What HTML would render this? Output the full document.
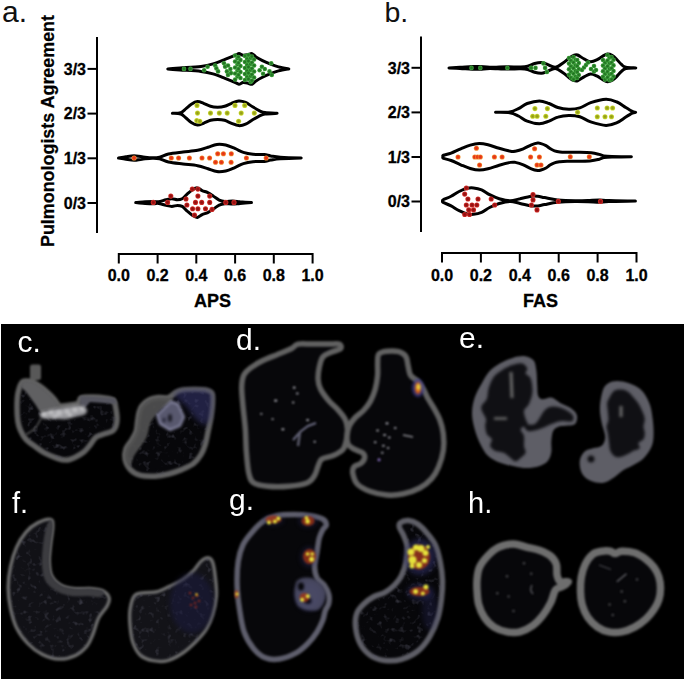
<!DOCTYPE html>
<html><head><meta charset="utf-8"><style>
html,body{margin:0;padding:0;background:#fff;}
body{width:685px;height:681px;overflow:hidden;position:relative;}
svg{position:absolute;left:0;top:0;display:block;}
text{font-family:"Liberation Sans",sans-serif;}
</style></head><body>
<svg width="685" height="681" viewBox="0 0 685 681">
<defs>
<filter color-interpolation-filters="sRGB" id="bl1" filterUnits="userSpaceOnUse" x="0" y="0" width="685" height="681"><feGaussianBlur stdDeviation="0.9"/></filter>
<filter color-interpolation-filters="sRGB" id="bl2" filterUnits="userSpaceOnUse" x="0" y="0" width="685" height="681"><feGaussianBlur stdDeviation="1.6"/></filter>
<filter color-interpolation-filters="sRGB" id="bl3" filterUnits="userSpaceOnUse" x="0" y="0" width="685" height="681"><feGaussianBlur stdDeviation="2.5"/></filter>
<filter id="noise" x="0" y="0" width="100%" height="100%" color-interpolation-filters="sRGB"><feTurbulence type="fractalNoise" baseFrequency="0.18" numOctaves="2" seed="7"/><feColorMatrix type="matrix" values="0 0 0 0 0.34  0 0 0 0 0.34  0 0 0 0 0.40  1.5 0 0 0 -0.84"/><feGaussianBlur stdDeviation="0.45"/></filter>
<radialGradient id="dR"><stop offset="0" stop-color="#861010"/><stop offset="0.5" stop-color="#a01414"/><stop offset="1" stop-color="#d8302a"/></radialGradient>
<radialGradient id="dO"><stop offset="0" stop-color="#e42c14"/><stop offset="0.55" stop-color="#e8401a"/><stop offset="1" stop-color="#f49430"/></radialGradient>
<radialGradient id="dY"><stop offset="0" stop-color="#8c9418"/><stop offset="0.55" stop-color="#a4b01c"/><stop offset="1" stop-color="#d0e030"/></radialGradient>
<radialGradient id="dG"><stop offset="0" stop-color="#1e6a1e"/><stop offset="0.55" stop-color="#2a822a"/><stop offset="1" stop-color="#44aa40"/></radialGradient>
</defs>
<rect width="685" height="681" fill="#fff"/>

<g stroke="#000" stroke-width="2" fill="none" stroke-linecap="square"><path d="M97,38V232"/><path d="M88.5,68.9H97"/><path d="M88.5,113.6H97"/><path d="M88.5,158.3H97"/><path d="M88.5,203H97"/><path d="M118.8,262.5V254H312.6V262.5"/><path d="M157.6,254V262.5"/><path d="M196.3,254V262.5"/><path d="M235.1,254V262.5"/><path d="M273.8,254V262.5"/></g><g font-weight="bold" font-size="16" fill="#000" stroke="#000" stroke-width="0.3"><text x="86" y="74.7" text-anchor="end">3/3</text><text x="86" y="119.4" text-anchor="end">2/3</text><text x="86" y="164.1" text-anchor="end">1/3</text><text x="86" y="208.8" text-anchor="end">0/3</text><text x="118.8" y="281" text-anchor="middle">0.0</text><text x="157.6" y="281" text-anchor="middle">0.2</text><text x="196.3" y="281" text-anchor="middle">0.4</text><text x="235.1" y="281" text-anchor="middle">0.6</text><text x="273.8" y="281" text-anchor="middle">0.8</text><text x="312.6" y="281" text-anchor="middle">1.0</text></g><text x="212.5" y="307" font-weight="bold" font-size="18" text-anchor="middle" fill="#000" stroke="#000" stroke-width="0.3">APS</text>
<g stroke="#000" stroke-width="2" fill="none" stroke-linecap="square"><path d="M421,37.5V231"/><path d="M412.5,67.8H421"/><path d="M412.5,112.4H421"/><path d="M412.5,157H421"/><path d="M412.5,201.5H421"/><path d="M442,261.5V253H636.5V261.5"/><path d="M480.9,253V261.5"/><path d="M519.8,253V261.5"/><path d="M558.7,253V261.5"/><path d="M597.6,253V261.5"/></g><g font-weight="bold" font-size="16" fill="#000" stroke="#000" stroke-width="0.3"><text x="410" y="73.6" text-anchor="end">3/3</text><text x="410" y="118.2" text-anchor="end">2/3</text><text x="410" y="162.8" text-anchor="end">1/3</text><text x="410" y="207.3" text-anchor="end">0/3</text><text x="442.0" y="281" text-anchor="middle">0.0</text><text x="480.9" y="281" text-anchor="middle">0.2</text><text x="519.8" y="281" text-anchor="middle">0.4</text><text x="558.7" y="281" text-anchor="middle">0.6</text><text x="597.6" y="281" text-anchor="middle">0.8</text><text x="636.5" y="281" text-anchor="middle">1.0</text></g><text x="540.5" y="307" font-weight="bold" font-size="18" text-anchor="middle" fill="#000" stroke="#000" stroke-width="0.3">FAS</text>
<text transform="translate(53.5,247) rotate(-90)" font-weight="bold" font-size="18" fill="#000" stroke="#000" stroke-width="0.25" textLength="232" lengthAdjust="spacingAndGlyphs">Pulmonologists Agreement</text>
<text x="2" y="21.6" font-size="30" fill="#111">a.</text>
<text x="384.5" y="21.6" font-size="28.5" fill="#111">b.</text>
<path d="M167.8,68.9C169.8,68.7 174.5,68.3 180.0,67.9C185.5,67.5 195.5,67.1 201.0,66.4C206.5,65.7 209.0,65.1 213.0,63.9C217.0,62.7 221.2,60.9 225.0,59.4C228.8,57.9 233.7,55.9 236.0,54.9C238.3,53.9 237.8,53.6 239.0,53.6C240.2,53.7 241.5,55.0 243.0,55.2C244.5,55.4 246.5,54.9 248.0,54.6C249.5,54.3 250.7,53.2 252.0,53.6C253.3,54.0 254.3,55.8 256.0,56.9C257.7,58.0 259.7,59.1 262.0,60.3C264.3,61.5 267.2,62.8 270.0,63.9C272.8,65.0 275.4,66.1 278.5,66.9C281.6,67.7 287.1,68.6 288.8,68.9C287.1,69.2 281.6,70.1 278.5,70.9C275.4,71.7 272.8,72.8 270.0,73.9C267.2,75.0 264.3,76.3 262.0,77.5C259.7,78.7 257.7,79.8 256.0,80.9C254.3,82.0 253.3,83.8 252.0,84.2C250.7,84.6 249.5,83.5 248.0,83.2C246.5,82.9 244.5,82.4 243.0,82.6C241.5,82.8 240.2,84.2 239.0,84.2C237.8,84.2 238.3,83.9 236.0,82.9C233.7,81.9 228.8,79.9 225.0,78.4C221.2,76.9 217.0,75.1 213.0,73.9C209.0,72.7 206.5,72.1 201.0,71.4C195.5,70.7 185.5,70.3 180.0,69.9C174.5,69.5 169.8,69.1 167.8,68.9Z" fill="#fff" stroke="#000" stroke-width="3" stroke-linejoin="round"/>
<circle cx="184" cy="68.9" r="2.3" fill="url(#dG)"/>
<circle cx="190.5" cy="68.9" r="2.3" fill="url(#dG)"/>
<circle cx="204.1" cy="70.2" r="2.3" fill="url(#dG)"/>
<circle cx="207.6" cy="66.7" r="2.3" fill="url(#dG)"/>
<circle cx="215.2" cy="65.5" r="2.3" fill="url(#dG)"/>
<circle cx="216.4" cy="68.4" r="2.3" fill="url(#dG)"/>
<circle cx="218.1" cy="71.4" r="2.3" fill="url(#dG)"/>
<circle cx="224" cy="63.2" r="2.3" fill="url(#dG)"/>
<circle cx="225.1" cy="66.7" r="2.3" fill="url(#dG)"/>
<circle cx="226.9" cy="71.4" r="2.3" fill="url(#dG)"/>
<circle cx="228" cy="74.9" r="2.3" fill="url(#dG)"/>
<circle cx="230.4" cy="69" r="2.3" fill="url(#dG)"/>
<circle cx="231" cy="73.1" r="2.3" fill="url(#dG)"/>
<circle cx="228" cy="65.5" r="2.3" fill="url(#dG)"/>
<circle cx="259.6" cy="70.2" r="2.3" fill="url(#dG)"/>
<circle cx="261.9" cy="66.7" r="2.3" fill="url(#dG)"/>
<circle cx="263.1" cy="73.7" r="2.3" fill="url(#dG)"/>
<circle cx="264.8" cy="69" r="2.3" fill="url(#dG)"/>
<circle cx="271.2" cy="63.2" r="2.3" fill="url(#dG)"/>
<circle cx="269.5" cy="71.4" r="2.3" fill="url(#dG)"/>
<circle cx="271.8" cy="74.9" r="2.3" fill="url(#dG)"/>
<circle cx="235.10000000000002" cy="55.5" r="2.3" fill="url(#dG)"/>
<circle cx="237.5" cy="58.5" r="2.3" fill="url(#dG)"/>
<circle cx="235.10000000000002" cy="61.5" r="2.3" fill="url(#dG)"/>
<circle cx="237.5" cy="64.5" r="2.3" fill="url(#dG)"/>
<circle cx="235.10000000000002" cy="67.5" r="2.3" fill="url(#dG)"/>
<circle cx="237.5" cy="70.5" r="2.3" fill="url(#dG)"/>
<circle cx="235.10000000000002" cy="73.5" r="2.3" fill="url(#dG)"/>
<circle cx="237.5" cy="76.5" r="2.3" fill="url(#dG)"/>
<circle cx="235.10000000000002" cy="79.5" r="2.3" fill="url(#dG)"/>
<circle cx="238.5" cy="57" r="2.3" fill="url(#dG)"/>
<circle cx="240.5" cy="60.0" r="2.3" fill="url(#dG)"/>
<circle cx="238.5" cy="63.0" r="2.3" fill="url(#dG)"/>
<circle cx="240.5" cy="66.0" r="2.3" fill="url(#dG)"/>
<circle cx="238.5" cy="69.0" r="2.3" fill="url(#dG)"/>
<circle cx="240.5" cy="72.0" r="2.3" fill="url(#dG)"/>
<circle cx="238.5" cy="75.0" r="2.3" fill="url(#dG)"/>
<circle cx="240.5" cy="78.0" r="2.3" fill="url(#dG)"/>
<circle cx="244.9" cy="56" r="2.3" fill="url(#dG)"/>
<circle cx="247.1" cy="59.0" r="2.3" fill="url(#dG)"/>
<circle cx="244.9" cy="62.0" r="2.3" fill="url(#dG)"/>
<circle cx="247.1" cy="65.0" r="2.3" fill="url(#dG)"/>
<circle cx="244.9" cy="68.0" r="2.3" fill="url(#dG)"/>
<circle cx="247.1" cy="71.0" r="2.3" fill="url(#dG)"/>
<circle cx="244.9" cy="74.0" r="2.3" fill="url(#dG)"/>
<circle cx="247.1" cy="77.0" r="2.3" fill="url(#dG)"/>
<circle cx="244.9" cy="80.0" r="2.3" fill="url(#dG)"/>
<circle cx="248.4" cy="55" r="2.3" fill="url(#dG)"/>
<circle cx="250.6" cy="58.0" r="2.3" fill="url(#dG)"/>
<circle cx="248.4" cy="61.0" r="2.3" fill="url(#dG)"/>
<circle cx="250.6" cy="64.0" r="2.3" fill="url(#dG)"/>
<circle cx="248.4" cy="67.0" r="2.3" fill="url(#dG)"/>
<circle cx="250.6" cy="70.0" r="2.3" fill="url(#dG)"/>
<circle cx="248.4" cy="73.0" r="2.3" fill="url(#dG)"/>
<circle cx="250.6" cy="76.0" r="2.3" fill="url(#dG)"/>
<circle cx="248.4" cy="79.0" r="2.3" fill="url(#dG)"/>
<circle cx="250.6" cy="82.0" r="2.3" fill="url(#dG)"/>
<circle cx="251.9" cy="56.5" r="2.3" fill="url(#dG)"/>
<circle cx="254.1" cy="59.5" r="2.3" fill="url(#dG)"/>
<circle cx="251.9" cy="62.5" r="2.3" fill="url(#dG)"/>
<circle cx="254.1" cy="65.5" r="2.3" fill="url(#dG)"/>
<circle cx="251.9" cy="68.5" r="2.3" fill="url(#dG)"/>
<circle cx="254.1" cy="71.5" r="2.3" fill="url(#dG)"/>
<circle cx="251.9" cy="74.5" r="2.3" fill="url(#dG)"/>
<circle cx="254.1" cy="77.5" r="2.3" fill="url(#dG)"/>
<circle cx="251.9" cy="80.5" r="2.3" fill="url(#dG)"/>
<path d="M172.4,113.3C173.8,113.2 178.5,113.4 180.8,112.6C183.1,111.8 184.2,110.0 186.0,108.6C187.8,107.2 189.4,105.4 191.3,104.2C193.2,103.0 195.4,101.8 197.4,101.6C199.4,101.4 201.3,102.5 203.5,103.3C205.7,104.1 208.2,105.6 210.5,106.3C212.8,107.0 215.2,107.2 217.6,107.2C219.9,107.2 222.3,107.0 224.6,106.3C226.9,105.6 229.3,104.2 231.6,103.3C233.9,102.4 236.3,101.2 238.6,101.0C240.9,100.8 243.3,101.4 245.6,102.4C247.9,103.4 250.3,105.4 252.6,106.8C254.9,108.2 257.6,109.8 259.6,110.8C261.7,111.8 262.0,112.2 264.9,112.6C267.8,113.0 275.1,113.2 277.1,113.3C275.1,113.4 267.8,113.6 264.9,114.0C262.0,114.4 261.7,114.8 259.6,115.8C257.6,116.8 254.9,118.4 252.6,119.8C250.3,121.2 247.9,123.2 245.6,124.2C243.3,125.2 240.9,125.8 238.6,125.6C236.3,125.4 233.9,124.2 231.6,123.3C229.3,122.4 226.9,121.0 224.6,120.3C222.3,119.6 219.9,119.4 217.6,119.4C215.2,119.4 212.8,119.6 210.5,120.3C208.2,121.0 205.7,122.5 203.5,123.3C201.3,124.1 199.4,125.2 197.4,125.0C195.4,124.8 193.2,123.6 191.3,122.4C189.4,121.2 187.8,119.4 186.0,118.0C184.2,116.6 183.1,114.8 180.8,114.0C178.5,113.2 173.8,113.4 172.4,113.3Z" fill="#fff" stroke="#000" stroke-width="3" stroke-linejoin="round"/>
<circle cx="197" cy="105.4" r="2.55" fill="url(#dY)"/>
<circle cx="197.5" cy="113.1" r="2.55" fill="url(#dY)"/>
<circle cx="196.8" cy="120.6" r="2.55" fill="url(#dY)"/>
<circle cx="199.8" cy="121.2" r="2.55" fill="url(#dY)"/>
<circle cx="210.5" cy="113.1" r="2.55" fill="url(#dY)"/>
<circle cx="219.3" cy="113.1" r="2.55" fill="url(#dY)"/>
<circle cx="227.2" cy="113.1" r="2.55" fill="url(#dY)"/>
<circle cx="235" cy="105.4" r="2.55" fill="url(#dY)"/>
<circle cx="244.7" cy="105.4" r="2.55" fill="url(#dY)"/>
<circle cx="241.2" cy="113.1" r="2.55" fill="url(#dY)"/>
<circle cx="254.3" cy="113.1" r="2.55" fill="url(#dY)"/>
<circle cx="238.6" cy="121.2" r="2.55" fill="url(#dY)"/>
<path d="M118.5,158.0C119.8,157.8 123.4,157.2 126.0,156.8C128.6,156.4 131.4,155.8 134.1,155.8C136.8,155.8 139.0,156.5 142.0,156.8C145.0,157.1 149.4,157.7 152.3,157.8C155.2,157.9 156.9,157.8 159.6,157.2C162.3,156.6 164.5,154.9 168.4,154.0C172.3,153.1 178.1,152.6 183.0,152.0C187.9,151.4 193.4,151.1 197.6,150.3C201.8,149.5 204.8,148.2 208.0,147.2C211.2,146.2 214.0,144.8 216.9,144.4C219.8,144.0 222.6,144.3 225.7,145.0C228.8,145.7 232.4,147.5 235.3,148.7C238.2,149.9 240.5,151.5 243.4,152.4C246.3,153.3 249.5,153.9 253.0,154.3C256.5,154.7 261.2,154.3 264.2,154.6C267.1,154.9 268.0,155.5 270.7,155.9C273.4,156.3 275.2,156.8 280.3,157.2C285.4,157.5 297.7,157.9 301.2,158.0C297.7,158.1 285.4,158.5 280.3,158.8C275.2,159.2 273.4,159.7 270.7,160.1C268.0,160.5 267.1,161.1 264.2,161.4C261.2,161.7 256.5,161.3 253.0,161.7C249.5,162.1 246.3,162.7 243.4,163.6C240.5,164.5 238.2,166.1 235.3,167.3C232.4,168.5 228.8,170.3 225.7,171.0C222.6,171.7 219.8,172.0 216.9,171.6C214.0,171.2 211.2,169.8 208.0,168.8C204.8,167.8 201.8,166.5 197.6,165.7C193.4,164.9 187.9,164.6 183.0,164.0C178.1,163.4 172.3,162.9 168.4,162.0C164.5,161.1 162.3,159.4 159.6,158.8C156.9,158.2 155.2,158.1 152.3,158.2C149.4,158.3 145.0,158.9 142.0,159.2C139.0,159.5 136.8,160.2 134.1,160.2C131.4,160.2 128.6,159.6 126.0,159.2C123.4,158.8 119.8,158.2 118.5,158.0Z" fill="#fff" stroke="#000" stroke-width="3" stroke-linejoin="round"/>
<circle cx="134.1" cy="158" r="2.55" fill="url(#dO)"/>
<circle cx="171.3" cy="158" r="2.55" fill="url(#dO)"/>
<circle cx="178.6" cy="158" r="2.55" fill="url(#dO)"/>
<circle cx="189.4" cy="158" r="2.55" fill="url(#dO)"/>
<circle cx="202" cy="158" r="2.55" fill="url(#dO)"/>
<circle cx="209.6" cy="158" r="2.55" fill="url(#dO)"/>
<circle cx="217.7" cy="153.7" r="2.55" fill="url(#dO)"/>
<circle cx="223.4" cy="153.7" r="2.55" fill="url(#dO)"/>
<circle cx="231.3" cy="153.7" r="2.55" fill="url(#dO)"/>
<circle cx="215.5" cy="162.3" r="2.55" fill="url(#dO)"/>
<circle cx="221.4" cy="162.3" r="2.55" fill="url(#dO)"/>
<circle cx="231.1" cy="162.3" r="2.55" fill="url(#dO)"/>
<circle cx="246.4" cy="158" r="2.55" fill="url(#dO)"/>
<circle cx="266.2" cy="158" r="2.55" fill="url(#dO)"/>
<path d="M135.7,202.6C137.3,202.5 142.2,202.0 145.2,201.8C148.2,201.6 151.5,201.5 153.7,201.5C155.9,201.5 156.4,202.1 158.5,201.8C160.6,201.5 163.8,200.3 166.0,199.8C168.2,199.3 169.9,198.8 171.8,198.8C173.7,198.8 175.7,199.8 177.4,199.8C179.1,199.8 180.6,199.7 182.2,198.8C183.8,197.9 185.2,195.9 186.9,194.4C188.6,192.9 190.8,190.8 192.6,189.7C194.3,188.6 195.8,187.6 197.4,187.8C199.0,187.9 200.4,189.8 202.1,190.6C203.8,191.4 205.9,191.7 207.8,192.6C209.7,193.5 211.6,195.0 213.5,196.3C215.4,197.5 217.3,199.2 219.2,200.1C221.1,201.0 222.7,201.3 224.9,201.5C227.1,201.7 230.0,201.1 232.5,201.1C235.0,201.1 236.8,201.5 240.0,201.8C243.2,202.0 249.6,202.5 251.5,202.6C249.6,202.7 243.2,203.2 240.0,203.4C236.8,203.7 235.0,204.1 232.5,204.1C230.0,204.1 227.1,203.5 224.9,203.7C222.7,203.9 221.1,204.2 219.2,205.1C217.3,206.0 215.4,207.7 213.5,208.9C211.6,210.2 209.7,211.7 207.8,212.6C205.9,213.5 203.8,213.8 202.1,214.6C200.4,215.4 199.0,217.2 197.4,217.4C195.8,217.6 194.3,216.6 192.6,215.5C190.8,214.4 188.6,212.3 186.9,210.8C185.2,209.3 183.8,207.3 182.2,206.4C180.6,205.5 179.1,205.4 177.4,205.4C175.7,205.4 173.7,206.4 171.8,206.4C169.9,206.4 168.2,205.9 166.0,205.4C163.8,204.9 160.6,203.7 158.5,203.4C156.4,203.1 155.9,203.7 153.7,203.7C151.5,203.7 148.2,203.6 145.2,203.4C142.2,203.2 137.3,202.7 135.7,202.6Z" fill="#fff" stroke="#000" stroke-width="3" stroke-linejoin="round"/>
<circle cx="153.3" cy="202.4" r="2.55" fill="url(#dR)"/>
<circle cx="167.6" cy="202.4" r="2.55" fill="url(#dR)"/>
<circle cx="170.8" cy="196.1" r="2.55" fill="url(#dR)"/>
<circle cx="186" cy="199" r="2.55" fill="url(#dR)"/>
<circle cx="186.9" cy="205" r="2.55" fill="url(#dR)"/>
<circle cx="192.3" cy="189.1" r="2.55" fill="url(#dR)"/>
<circle cx="197.9" cy="189.1" r="2.55" fill="url(#dR)"/>
<circle cx="197.9" cy="196.1" r="2.55" fill="url(#dR)"/>
<circle cx="195.5" cy="202.4" r="2.55" fill="url(#dR)"/>
<circle cx="201.7" cy="202.4" r="2.55" fill="url(#dR)"/>
<circle cx="209.7" cy="196.1" r="2.55" fill="url(#dR)"/>
<circle cx="209.7" cy="202.4" r="2.55" fill="url(#dR)"/>
<circle cx="192.6" cy="208.8" r="2.55" fill="url(#dR)"/>
<circle cx="197.9" cy="208.8" r="2.55" fill="url(#dR)"/>
<circle cx="205.5" cy="208.8" r="2.55" fill="url(#dR)"/>
<circle cx="212" cy="209.4" r="2.55" fill="url(#dR)"/>
<circle cx="194.5" cy="215.1" r="2.55" fill="url(#dR)"/>
<circle cx="225.8" cy="202.4" r="2.55" fill="url(#dR)"/>
<circle cx="234" cy="202.4" r="2.55" fill="url(#dR)"/>
<path d="M449.0,67.9C450.8,67.8 456.2,67.5 460.0,67.3C463.8,67.1 468.7,66.6 472.0,66.5C475.3,66.4 477.0,66.4 480.0,66.5C483.0,66.6 485.5,67.3 490.0,67.3C494.5,67.3 502.0,66.8 507.0,66.7C512.0,66.7 516.6,67.1 520.0,67.0C523.4,66.9 525.2,66.9 527.6,66.3C530.0,65.7 532.3,64.1 534.6,63.5C536.9,62.9 539.6,62.4 541.6,62.5C543.6,62.6 544.6,63.4 546.9,64.2C549.2,65.0 552.6,67.5 555.3,67.3C558.0,67.1 560.7,64.5 563.0,63.0C565.3,61.5 567.3,59.4 569.1,58.1C570.9,56.8 572.3,55.8 573.7,55.3C575.1,54.8 575.8,54.4 577.6,55.0C579.4,55.7 582.3,58.1 584.5,59.2C586.7,60.3 588.6,61.7 590.6,61.8C592.6,61.9 594.7,60.9 596.7,59.9C598.7,59.0 601.0,57.1 602.8,56.1C604.6,55.1 605.9,54.2 607.4,54.1C608.9,54.0 610.5,54.5 612.0,55.3C613.5,56.2 615.1,57.7 616.6,59.2C618.1,60.7 619.7,62.9 621.2,64.2C622.7,65.6 623.4,66.7 625.8,67.3C628.2,67.9 634.1,67.8 635.8,67.9C634.1,68.0 628.2,67.9 625.8,68.5C623.4,69.1 622.7,70.2 621.2,71.6C619.7,73.0 618.1,75.1 616.6,76.6C615.1,78.1 613.5,79.7 612.0,80.5C610.5,81.3 608.9,81.8 607.4,81.7C605.9,81.6 604.6,80.7 602.8,79.7C601.0,78.7 598.7,76.9 596.7,75.9C594.7,75.0 592.6,73.9 590.6,74.0C588.6,74.1 586.7,75.5 584.5,76.6C582.3,77.7 579.4,80.2 577.6,80.8C575.8,81.5 575.1,81.0 573.7,80.5C572.3,80.0 570.9,79.0 569.1,77.7C567.3,76.4 565.3,74.3 563.0,72.8C560.7,71.3 558.0,68.7 555.3,68.5C552.6,68.3 549.2,70.8 546.9,71.6C544.6,72.4 543.6,73.2 541.6,73.3C539.6,73.4 536.9,72.9 534.6,72.3C532.3,71.7 530.0,70.1 527.6,69.5C525.2,68.9 523.4,68.9 520.0,68.8C516.6,68.7 512.0,69.2 507.0,69.1C502.0,69.1 494.5,68.5 490.0,68.5C485.5,68.5 483.0,69.2 480.0,69.3C477.0,69.4 475.3,69.4 472.0,69.3C468.7,69.2 463.8,68.7 460.0,68.5C456.2,68.3 450.8,68.0 449.0,67.9Z" fill="#fff" stroke="#000" stroke-width="3" stroke-linejoin="round"/>
<circle cx="471.5" cy="67.9" r="2.3" fill="url(#dG)"/>
<circle cx="480.3" cy="67.9" r="2.3" fill="url(#dG)"/>
<circle cx="507.4" cy="67.9" r="2.3" fill="url(#dG)"/>
<circle cx="531.1" cy="67.9" r="2.3" fill="url(#dG)"/>
<circle cx="535.5" cy="67.9" r="2.3" fill="url(#dG)"/>
<circle cx="543.4" cy="63.4" r="2.3" fill="url(#dG)"/>
<circle cx="545.1" cy="67.9" r="2.3" fill="url(#dG)"/>
<circle cx="546.9" cy="72" r="2.3" fill="url(#dG)"/>
<circle cx="569.0" cy="58" r="2.3" fill="url(#dG)"/>
<circle cx="571.0" cy="60.8" r="2.3" fill="url(#dG)"/>
<circle cx="569.0" cy="63.599999999999994" r="2.3" fill="url(#dG)"/>
<circle cx="571.0" cy="66.39999999999999" r="2.3" fill="url(#dG)"/>
<circle cx="569.0" cy="69.19999999999999" r="2.3" fill="url(#dG)"/>
<circle cx="571.0" cy="71.99999999999999" r="2.3" fill="url(#dG)"/>
<circle cx="569.0" cy="74.79999999999998" r="2.3" fill="url(#dG)"/>
<circle cx="571.0" cy="77.59999999999998" r="2.3" fill="url(#dG)"/>
<circle cx="573.5" cy="57" r="2.3" fill="url(#dG)"/>
<circle cx="575.5" cy="59.8" r="2.3" fill="url(#dG)"/>
<circle cx="573.5" cy="62.599999999999994" r="2.3" fill="url(#dG)"/>
<circle cx="575.5" cy="65.39999999999999" r="2.3" fill="url(#dG)"/>
<circle cx="573.5" cy="68.19999999999999" r="2.3" fill="url(#dG)"/>
<circle cx="575.5" cy="70.99999999999999" r="2.3" fill="url(#dG)"/>
<circle cx="573.5" cy="73.79999999999998" r="2.3" fill="url(#dG)"/>
<circle cx="575.5" cy="76.59999999999998" r="2.3" fill="url(#dG)"/>
<circle cx="573.5" cy="79.39999999999998" r="2.3" fill="url(#dG)"/>
<circle cx="577.2" cy="60" r="2.3" fill="url(#dG)"/>
<circle cx="578.8" cy="63" r="2.3" fill="url(#dG)"/>
<circle cx="577.2" cy="66" r="2.3" fill="url(#dG)"/>
<circle cx="578.8" cy="69" r="2.3" fill="url(#dG)"/>
<circle cx="577.2" cy="72" r="2.3" fill="url(#dG)"/>
<circle cx="578.8" cy="75" r="2.3" fill="url(#dG)"/>
<circle cx="577.2" cy="78" r="2.3" fill="url(#dG)"/>
<circle cx="582" cy="70" r="2.3" fill="url(#dG)"/>
<circle cx="584" cy="67.5" r="2.3" fill="url(#dG)"/>
<circle cx="586" cy="65" r="2.3" fill="url(#dG)"/>
<circle cx="588" cy="62.5" r="2.3" fill="url(#dG)"/>
<circle cx="591" cy="69" r="2.3" fill="url(#dG)"/>
<circle cx="594" cy="71.5" r="2.3" fill="url(#dG)"/>
<circle cx="596" cy="70" r="2.3" fill="url(#dG)"/>
<circle cx="594" cy="66" r="2.3" fill="url(#dG)"/>
<circle cx="603.0" cy="60" r="2.3" fill="url(#dG)"/>
<circle cx="605.0" cy="62.8" r="2.3" fill="url(#dG)"/>
<circle cx="603.0" cy="65.6" r="2.3" fill="url(#dG)"/>
<circle cx="605.0" cy="68.39999999999999" r="2.3" fill="url(#dG)"/>
<circle cx="603.0" cy="71.19999999999999" r="2.3" fill="url(#dG)"/>
<circle cx="605.0" cy="73.99999999999999" r="2.3" fill="url(#dG)"/>
<circle cx="603.0" cy="76.79999999999998" r="2.3" fill="url(#dG)"/>
<circle cx="605.0" cy="79.59999999999998" r="2.3" fill="url(#dG)"/>
<circle cx="607.5" cy="55" r="2.3" fill="url(#dG)"/>
<circle cx="609.5" cy="57.8" r="2.3" fill="url(#dG)"/>
<circle cx="607.5" cy="60.599999999999994" r="2.3" fill="url(#dG)"/>
<circle cx="609.5" cy="63.39999999999999" r="2.3" fill="url(#dG)"/>
<circle cx="607.5" cy="66.19999999999999" r="2.3" fill="url(#dG)"/>
<circle cx="609.5" cy="68.99999999999999" r="2.3" fill="url(#dG)"/>
<circle cx="607.5" cy="71.79999999999998" r="2.3" fill="url(#dG)"/>
<circle cx="609.5" cy="74.59999999999998" r="2.3" fill="url(#dG)"/>
<circle cx="607.5" cy="77.39999999999998" r="2.3" fill="url(#dG)"/>
<circle cx="609.5" cy="80.19999999999997" r="2.3" fill="url(#dG)"/>
<circle cx="611.5" cy="57" r="2.3" fill="url(#dG)"/>
<circle cx="613.5" cy="59.8" r="2.3" fill="url(#dG)"/>
<circle cx="611.5" cy="62.599999999999994" r="2.3" fill="url(#dG)"/>
<circle cx="613.5" cy="65.39999999999999" r="2.3" fill="url(#dG)"/>
<circle cx="611.5" cy="68.19999999999999" r="2.3" fill="url(#dG)"/>
<circle cx="613.5" cy="70.99999999999999" r="2.3" fill="url(#dG)"/>
<circle cx="611.5" cy="73.79999999999998" r="2.3" fill="url(#dG)"/>
<circle cx="613.5" cy="76.59999999999998" r="2.3" fill="url(#dG)"/>
<circle cx="611.5" cy="79.39999999999998" r="2.3" fill="url(#dG)"/>
<path d="M495.5,112.3C497.9,112.2 505.9,112.5 509.7,111.9C513.5,111.3 515.6,110.0 518.5,108.6C521.4,107.2 523.7,104.8 527.2,103.5C530.7,102.2 535.6,100.9 539.3,100.9C542.9,100.9 546.0,102.4 549.1,103.5C552.2,104.6 554.6,106.5 557.9,107.5C561.2,108.5 565.1,109.1 568.8,109.2C572.4,109.3 576.1,109.0 579.8,107.9C583.4,106.8 586.3,104.2 590.7,102.7C595.1,101.2 601.6,99.3 606.0,99.2C610.4,99.1 613.7,100.6 617.0,102.0C620.3,103.4 623.2,105.9 625.8,107.5C628.3,109.1 630.7,110.6 632.3,111.4C633.9,112.2 635.0,112.1 635.6,112.3C635.0,112.5 633.9,112.4 632.3,113.2C630.7,114.0 628.3,115.5 625.8,117.1C623.2,118.7 620.3,121.2 617.0,122.6C613.7,124.0 610.4,125.5 606.0,125.4C601.6,125.3 595.1,123.3 590.7,121.9C586.3,120.4 583.4,117.8 579.8,116.7C576.1,115.6 572.4,115.3 568.8,115.4C565.1,115.5 561.2,116.1 557.9,117.1C554.6,118.0 552.2,120.0 549.1,121.1C546.0,122.2 542.9,123.7 539.3,123.7C535.6,123.7 530.7,122.4 527.2,121.1C523.7,119.8 521.4,117.4 518.5,116.0C515.6,114.6 513.5,113.3 509.7,112.7C505.9,112.1 497.9,112.4 495.5,112.3Z" fill="#fff" stroke="#000" stroke-width="3" stroke-linejoin="round"/>
<circle cx="534.9" cy="108.6" r="2.55" fill="url(#dY)"/>
<circle cx="547.4" cy="108.6" r="2.55" fill="url(#dY)"/>
<circle cx="532.7" cy="116.3" r="2.55" fill="url(#dY)"/>
<circle cx="537.1" cy="116.3" r="2.55" fill="url(#dY)"/>
<circle cx="545.8" cy="116.3" r="2.55" fill="url(#dY)"/>
<circle cx="577.6" cy="112.3" r="2.55" fill="url(#dY)"/>
<circle cx="597.3" cy="108" r="2.55" fill="url(#dY)"/>
<circle cx="607.1" cy="108" r="2.55" fill="url(#dY)"/>
<circle cx="612.6" cy="108" r="2.55" fill="url(#dY)"/>
<circle cx="597.3" cy="116.7" r="2.55" fill="url(#dY)"/>
<circle cx="605" cy="116.7" r="2.55" fill="url(#dY)"/>
<circle cx="611.5" cy="116.7" r="2.55" fill="url(#dY)"/>
<path d="M443.0,156.8C443.1,156.5 442.1,155.8 443.5,155.2C444.9,154.6 448.2,154.2 451.1,153.1C454.0,152.0 457.5,150.1 460.7,148.8C463.9,147.5 467.2,146.0 470.3,145.1C473.4,144.2 476.2,143.6 479.2,143.5C482.1,143.4 484.7,144.0 488.0,144.8C491.3,145.6 495.4,147.2 499.2,148.3C502.9,149.4 507.8,150.7 510.5,151.2C513.2,151.7 513.2,151.6 515.3,151.2C517.4,150.8 520.6,149.9 523.3,148.8C526.0,147.7 529.0,145.8 531.4,144.8C533.8,143.9 536.2,143.3 537.8,143.1C539.4,142.9 539.6,143.2 541.0,143.6C542.4,144.0 544.5,144.8 546.0,145.6C547.5,146.4 548.6,147.7 550.0,148.6C551.4,149.5 552.8,150.2 554.5,150.8C556.2,151.4 557.9,151.7 560.0,151.9C562.1,152.2 563.8,152.2 567.1,152.3C570.4,152.4 576.0,152.2 580.0,152.3C584.0,152.4 588.0,152.5 591.2,152.8C594.4,153.2 597.1,153.9 599.2,154.4C601.3,154.9 601.9,155.7 604.0,156.0C606.1,156.3 607.4,156.4 612.0,156.5C616.6,156.6 628.2,156.8 631.4,156.8C628.2,156.9 616.6,157.0 612.0,157.1C607.4,157.2 606.1,157.3 604.0,157.6C601.9,158.0 601.3,158.7 599.2,159.2C597.1,159.7 594.4,160.5 591.2,160.8C588.0,161.2 584.0,161.2 580.0,161.3C576.0,161.4 570.4,161.2 567.1,161.3C563.8,161.4 562.1,161.5 560.0,161.7C557.9,162.0 556.2,162.2 554.5,162.8C552.8,163.4 551.4,164.1 550.0,165.0C548.6,165.9 547.5,167.2 546.0,168.0C544.5,168.8 542.4,169.6 541.0,170.0C539.6,170.4 539.4,170.7 537.8,170.5C536.2,170.3 533.8,169.8 531.4,168.8C529.0,167.9 526.0,165.9 523.3,164.8C520.6,163.7 517.4,162.8 515.3,162.4C513.2,162.0 513.2,161.9 510.5,162.4C507.8,162.9 502.9,164.2 499.2,165.3C495.4,166.4 491.3,168.0 488.0,168.8C484.7,169.6 482.1,170.2 479.2,170.1C476.2,170.1 473.4,169.4 470.3,168.5C467.2,167.6 463.9,166.1 460.7,164.8C457.5,163.5 454.0,161.6 451.1,160.5C448.2,159.4 444.9,159.0 443.5,158.4C442.1,157.8 443.1,157.1 443.0,156.8Z" fill="#fff" stroke="#000" stroke-width="3" stroke-linejoin="round"/>
<circle cx="458" cy="157" r="2.55" fill="url(#dO)"/>
<circle cx="476.4" cy="148.2" r="2.55" fill="url(#dO)"/>
<circle cx="474.8" cy="157" r="2.55" fill="url(#dO)"/>
<circle cx="477.6" cy="157" r="2.55" fill="url(#dO)"/>
<circle cx="480.3" cy="157" r="2.55" fill="url(#dO)"/>
<circle cx="479.6" cy="165" r="2.55" fill="url(#dO)"/>
<circle cx="494.4" cy="157" r="2.55" fill="url(#dO)"/>
<circle cx="502.1" cy="157" r="2.55" fill="url(#dO)"/>
<circle cx="534.6" cy="148.7" r="2.55" fill="url(#dO)"/>
<circle cx="530.6" cy="157" r="2.55" fill="url(#dO)"/>
<circle cx="539.4" cy="157" r="2.55" fill="url(#dO)"/>
<circle cx="537" cy="165" r="2.55" fill="url(#dO)"/>
<circle cx="541" cy="165" r="2.55" fill="url(#dO)"/>
<circle cx="570.3" cy="156.8" r="2.55" fill="url(#dO)"/>
<circle cx="589.3" cy="156.8" r="2.55" fill="url(#dO)"/>
<path d="M442.7,201.1C442.8,200.9 441.8,200.6 443.2,199.8C444.6,199.0 448.5,197.7 451.1,196.3C453.8,194.9 456.4,192.8 459.1,191.5C461.8,190.2 464.7,188.9 467.1,188.3C469.5,187.7 471.1,187.6 473.5,187.9C475.9,188.2 478.9,188.8 481.6,189.9C484.3,191.0 486.7,193.2 489.6,194.7C492.5,196.2 495.7,197.7 499.2,198.7C502.7,199.7 507.0,200.8 510.5,200.8C514.0,200.8 516.6,199.4 520.1,198.7C523.6,197.9 528.5,196.7 531.4,196.3C534.3,195.9 535.6,196.1 537.8,196.3C540.0,196.5 541.3,197.0 544.6,197.6C547.9,198.2 552.4,199.4 557.5,199.9C562.6,200.4 570.0,200.7 575.1,200.8C580.2,200.9 584.0,200.7 588.0,200.5C592.0,200.3 595.7,199.9 599.2,199.9C602.7,199.9 602.9,200.4 608.9,200.6C614.9,200.8 631.0,201.0 635.4,201.1C631.0,201.2 614.9,201.4 608.9,201.6C602.9,201.8 602.7,202.3 599.2,202.3C595.7,202.3 592.0,201.8 588.0,201.7C584.0,201.5 580.2,201.3 575.1,201.4C570.0,201.5 562.6,201.8 557.5,202.3C552.4,202.8 547.9,204.0 544.6,204.6C541.3,205.2 540.0,205.7 537.8,205.9C535.6,206.1 534.3,206.3 531.4,205.9C528.5,205.5 523.6,204.2 520.1,203.5C516.6,202.8 514.0,201.4 510.5,201.4C507.0,201.4 502.7,202.5 499.2,203.5C495.7,204.5 492.5,206.0 489.6,207.5C486.7,209.0 484.3,211.2 481.6,212.3C478.9,213.4 475.9,214.0 473.5,214.3C471.1,214.6 469.5,214.5 467.1,213.9C464.7,213.3 461.8,212.0 459.1,210.7C456.4,209.4 453.8,207.3 451.1,205.9C448.5,204.5 444.6,203.2 443.2,202.4C441.8,201.6 442.8,201.3 442.7,201.1Z" fill="#fff" stroke="#000" stroke-width="3" stroke-linejoin="round"/>
<circle cx="466.3" cy="188" r="2.55" fill="url(#dR)"/>
<circle cx="464.7" cy="194.1" r="2.55" fill="url(#dR)"/>
<circle cx="467.9" cy="199" r="2.55" fill="url(#dR)"/>
<circle cx="478" cy="199" r="2.55" fill="url(#dR)"/>
<circle cx="466.3" cy="205" r="2.55" fill="url(#dR)"/>
<circle cx="472" cy="205" r="2.55" fill="url(#dR)"/>
<circle cx="476.8" cy="205" r="2.55" fill="url(#dR)"/>
<circle cx="468.7" cy="209.9" r="2.55" fill="url(#dR)"/>
<circle cx="473.5" cy="209.9" r="2.55" fill="url(#dR)"/>
<circle cx="464.7" cy="214.5" r="2.55" fill="url(#dR)"/>
<circle cx="469.5" cy="214.5" r="2.55" fill="url(#dR)"/>
<circle cx="491.2" cy="199" r="2.55" fill="url(#dR)"/>
<circle cx="494.7" cy="205" r="2.55" fill="url(#dR)"/>
<circle cx="533" cy="194.6" r="2.55" fill="url(#dR)"/>
<circle cx="533" cy="199.9" r="2.55" fill="url(#dR)"/>
<circle cx="531.4" cy="205" r="2.55" fill="url(#dR)"/>
<circle cx="537" cy="209.9" r="2.55" fill="url(#dR)"/>
<circle cx="558.3" cy="201.4" r="2.55" fill="url(#dR)"/>
<circle cx="600.5" cy="201.4" r="2.55" fill="url(#dR)"/>
<rect x="1" y="324" width="683" height="355" fill="#000"/>
<g filter="url(#bl1)">
<rect x="30" y="364.5" width="11" height="15.5" rx="2.5" fill="#585858"/>
<path d="M21.7,382.8C23.1,380.7 24.4,381.2 26.4,381.1C28.3,381.0 31.1,381.4 33.4,382.3C35.7,383.2 38.1,384.8 40.4,386.4C42.7,388.0 45.3,390.3 47.4,392.2C49.5,394.1 51.7,396.2 53.2,398.0C54.8,399.8 55.6,401.4 56.7,402.7C57.8,404.0 57.7,405.6 60.0,406.0C62.3,406.4 67.6,405.5 70.7,405.0C73.8,404.5 76.8,404.2 78.5,403.0C80.2,401.8 78.7,399.0 81.0,398.0C83.3,397.0 88.4,397.0 92.3,397.0C96.2,397.0 101.1,397.3 104.6,397.9C108.1,398.5 111.5,398.6 113.4,400.5C115.3,402.4 115.4,405.8 116.0,409.3C116.6,412.8 117.3,418.0 116.9,421.5C116.5,425.0 115.5,428.2 113.4,430.3C111.4,432.4 107.5,432.6 104.6,433.8C101.7,435.0 98.1,435.6 95.8,437.3C93.5,439.1 92.6,441.8 90.6,444.3C88.6,446.8 86.2,450.0 83.6,452.2C81.0,454.4 77.7,456.1 74.8,457.4C71.9,458.7 68.9,460.0 66.0,460.1C63.1,460.2 60.8,459.5 57.3,458.3C53.8,457.1 48.8,455.1 45.0,453.1C41.2,451.1 37.7,448.4 34.5,446.1C31.3,443.8 28.1,441.7 25.8,439.1C23.5,436.5 21.8,433.2 20.5,430.3C19.2,427.4 18.5,425.3 17.9,421.5C17.3,417.7 17.0,412.2 17.0,407.5C17.0,402.8 17.1,397.6 17.9,393.5C18.7,389.4 20.3,384.9 21.7,382.8Z" fill="#07070a" stroke="#616161" stroke-width="5.5" stroke-linejoin="round"/>
<path d="M142.0,405.7C143.7,403.6 146.7,401.1 149.4,399.8C152.1,398.5 155.0,398.0 158.2,397.6C161.4,397.2 165.6,398.5 168.5,397.6C171.4,396.8 173.4,393.8 175.8,392.5C178.2,391.2 180.2,390.5 183.1,390.0C186.0,389.5 189.7,389.5 193.4,389.5C197.1,389.5 202.1,389.4 205.2,390.0C208.3,390.6 210.6,391.2 211.8,393.2C213.0,395.2 212.6,398.1 212.5,402.0C212.4,405.9 211.7,411.8 211.0,416.7C210.3,421.6 209.1,426.8 208.1,431.4C207.1,436.0 206.4,440.7 205.2,444.6C204.0,448.5 202.8,451.7 200.8,454.9C198.8,458.1 196.6,461.2 193.4,463.7C190.2,466.1 185.8,467.9 181.7,469.6C177.5,471.3 172.9,472.9 168.5,474.0C164.1,475.1 159.8,476.0 155.2,476.2C150.5,476.4 144.8,476.5 140.6,475.4C136.4,474.3 132.9,472.3 130.3,469.6C127.7,466.9 125.8,462.7 125.1,459.3C124.4,455.9 124.8,452.2 125.9,449.0C127.0,445.8 130.0,443.1 131.7,440.2C133.4,437.3 135.2,434.6 136.2,431.4C137.2,428.2 137.1,424.3 137.6,421.1C138.1,417.9 138.4,414.9 139.1,412.3C139.8,409.7 140.3,407.8 142.0,405.7Z" fill="#07070a" stroke="#616161" stroke-width="5.5" stroke-linejoin="round"/>
</g>
<clipPath id="lcc"><path d="M21.7,382.8C23.1,380.7 24.4,381.2 26.4,381.1C28.3,381.0 31.1,381.4 33.4,382.3C35.7,383.2 38.1,384.8 40.4,386.4C42.7,388.0 45.3,390.3 47.4,392.2C49.5,394.1 51.7,396.2 53.2,398.0C54.8,399.8 55.6,401.4 56.7,402.7C57.8,404.0 57.7,405.6 60.0,406.0C62.3,406.4 67.6,405.5 70.7,405.0C73.8,404.5 76.8,404.2 78.5,403.0C80.2,401.8 78.7,399.0 81.0,398.0C83.3,397.0 88.4,397.0 92.3,397.0C96.2,397.0 101.1,397.3 104.6,397.9C108.1,398.5 111.5,398.6 113.4,400.5C115.3,402.4 115.4,405.8 116.0,409.3C116.6,412.8 117.3,418.0 116.9,421.5C116.5,425.0 115.5,428.2 113.4,430.3C111.4,432.4 107.5,432.6 104.6,433.8C101.7,435.0 98.1,435.6 95.8,437.3C93.5,439.1 92.6,441.8 90.6,444.3C88.6,446.8 86.2,450.0 83.6,452.2C81.0,454.4 77.7,456.1 74.8,457.4C71.9,458.7 68.9,460.0 66.0,460.1C63.1,460.2 60.8,459.5 57.3,458.3C53.8,457.1 48.8,455.1 45.0,453.1C41.2,451.1 37.7,448.4 34.5,446.1C31.3,443.8 28.1,441.7 25.8,439.1C23.5,436.5 21.8,433.2 20.5,430.3C19.2,427.4 18.5,425.3 17.9,421.5C17.3,417.7 17.0,412.2 17.0,407.5C17.0,402.8 17.1,397.6 17.9,393.5C18.7,389.4 20.3,384.9 21.7,382.8Z"/><path d="M142.0,405.7C143.7,403.6 146.7,401.1 149.4,399.8C152.1,398.5 155.0,398.0 158.2,397.6C161.4,397.2 165.6,398.5 168.5,397.6C171.4,396.8 173.4,393.8 175.8,392.5C178.2,391.2 180.2,390.5 183.1,390.0C186.0,389.5 189.7,389.5 193.4,389.5C197.1,389.5 202.1,389.4 205.2,390.0C208.3,390.6 210.6,391.2 211.8,393.2C213.0,395.2 212.6,398.1 212.5,402.0C212.4,405.9 211.7,411.8 211.0,416.7C210.3,421.6 209.1,426.8 208.1,431.4C207.1,436.0 206.4,440.7 205.2,444.6C204.0,448.5 202.8,451.7 200.8,454.9C198.8,458.1 196.6,461.2 193.4,463.7C190.2,466.1 185.8,467.9 181.7,469.6C177.5,471.3 172.9,472.9 168.5,474.0C164.1,475.1 159.8,476.0 155.2,476.2C150.5,476.4 144.8,476.5 140.6,475.4C136.4,474.3 132.9,472.3 130.3,469.6C127.7,466.9 125.8,462.7 125.1,459.3C124.4,455.9 124.8,452.2 125.9,449.0C127.0,445.8 130.0,443.1 131.7,440.2C133.4,437.3 135.2,434.6 136.2,431.4C137.2,428.2 137.1,424.3 137.6,421.1C138.1,417.9 138.4,414.9 139.1,412.3C139.8,409.7 140.3,407.8 142.0,405.7Z"/></clipPath>
<rect x="1" y="324" width="683" height="355" filter="url(#noise)" clip-path="url(#lcc)"/>
<g filter="url(#bl1)">
<path d="M21.7,382.8C22.5,381.7 24.4,381.2 26.4,381.1C28.3,381.0 31.1,381.4 33.4,382.3C35.7,383.2 38.1,384.8 40.4,386.4C42.7,388.0 45.3,390.3 47.4,392.2C49.5,394.1 51.7,396.2 53.2,398.0C54.8,399.8 55.7,401.1 56.7,402.7C57.7,404.3 59.6,406.2 59.0,407.4C58.4,408.6 55.5,409.1 53.2,409.7C50.9,410.3 47.1,410.5 45.0,410.9C42.9,411.3 41.9,413.0 40.4,412.0C38.9,411.0 37.5,407.5 35.7,405.0C34.0,402.5 31.6,399.2 29.9,396.9C28.1,394.6 26.6,392.6 25.2,391.0C23.8,389.4 22.3,388.9 21.7,387.5C21.1,386.1 20.9,383.9 21.7,382.8Z" fill="#606062"/>
<path d="M80,396 L115,398 L117,404 L90,402 L84,409 L80,404Z" fill="#55555f"/>
<path d="M40.8,418.7 Q36,430 25.9,434.6" stroke="#5a5a5a" stroke-width="1.4" fill="none"/>
<path d="M142.0,405.7C143.7,403.6 146.7,401.1 149.4,399.8C152.1,398.5 155.0,398.0 158.2,397.6C161.4,397.2 166.0,397.4 168.5,397.6C171.0,397.8 173.1,397.9 173.0,399.0C172.9,400.1 170.2,402.2 168.0,404.0C165.8,405.8 162.2,408.0 160.0,410.0C157.8,412.0 156.7,413.7 155.0,416.0C153.3,418.3 151.3,420.7 150.0,424.0C148.7,427.3 148.5,432.3 147.0,436.0C145.5,439.7 143.2,442.7 141.0,446.0C138.8,449.3 135.8,452.7 134.0,456.0C132.2,459.3 131.5,465.4 130.0,466.0C128.5,466.6 125.8,462.1 125.1,459.3C124.4,456.5 124.8,452.2 125.9,449.0C127.0,445.8 130.0,443.1 131.7,440.2C133.4,437.3 135.2,434.6 136.2,431.4C137.2,428.2 137.1,424.3 137.6,421.1C138.1,417.9 138.4,414.9 139.1,412.3C139.8,409.7 140.3,407.8 142.0,405.7Z" fill="#525252" opacity="0.9"/>
<path d="M175.8,392.5C177.0,391.2 180.2,390.5 183.1,390.0C186.0,389.5 189.7,389.5 193.4,389.5C197.1,389.5 202.1,389.4 205.2,390.0C208.3,390.6 210.6,391.2 211.8,393.2C213.0,395.2 212.6,398.1 212.5,402.0C212.4,405.9 212.2,412.9 211.0,416.7C209.8,420.5 207.7,424.8 205.0,425.0C202.3,425.2 198.2,421.2 195.0,418.0C191.8,414.8 189.2,409.3 186.0,406.0C182.8,402.7 177.7,400.2 176.0,398.0C174.3,395.8 174.6,393.8 175.8,392.5Z" fill="#34346a" opacity="0.6" filter="url(#bl3)"/>
</g>
<g filter="url(#bl2)">
<path d="M39.8,413.2C40.4,412.0 42.6,411.7 45.0,410.9C47.4,410.1 51.5,409.1 54.4,408.5C57.3,407.9 59.9,407.8 62.6,407.4C65.3,407.0 68.0,406.6 70.7,406.2C73.4,405.8 76.8,405.0 78.9,405.0C81.1,405.0 82.2,405.4 83.6,406.2C85.0,407.0 86.9,408.3 87.1,409.7C87.3,411.1 86.7,413.2 84.7,414.4C82.8,415.6 78.5,415.9 75.4,416.7C72.3,417.5 69.2,418.6 66.1,419.0C63.0,419.4 59.6,419.0 56.7,419.0C53.8,419.0 51.0,419.2 48.5,419.0C46.0,418.8 43.0,418.9 41.5,417.9C40.0,416.9 39.2,414.4 39.8,413.2Z" fill="#98989c"/>
<ellipse cx="44" cy="414" rx="3" ry="3" fill="#bdbdc0"/><ellipse cx="51" cy="412.5" rx="3" ry="2.5" fill="#bdbdc0"/><ellipse cx="59" cy="413" rx="3.5" ry="3" fill="#bdbdc0"/><ellipse cx="67" cy="411.5" rx="3" ry="2.5" fill="#bdbdc0"/><ellipse cx="75" cy="410" rx="3" ry="2.5" fill="#bdbdc0"/><ellipse cx="82" cy="409" rx="2.5" ry="2.5" fill="#bdbdc0"/><ellipse cx="55" cy="416.5" rx="2.5" ry="2" fill="#bdbdc0"/><ellipse cx="70" cy="415" rx="2.5" ry="2" fill="#bdbdc0"/>
<path d="M157.0,415.0 L171.0,401.5 L178.0,404.0 L184.0,417.0 L180.0,426.0 L170.0,430.0 L160.0,424.0Z" fill="#58586e" stroke="#a4a4c4" stroke-width="1.6"/>
<ellipse cx="170" cy="418" rx="2" ry="4" fill="#1a1a24"/><ellipse cx="164" cy="420" rx="1.5" ry="2.5" fill="#202030"/>
</g>
<g filter="url(#bl1)">
<path d="M244.1,374.6C245.7,371.5 248.0,370.0 251.1,367.6C254.2,365.2 258.6,362.6 262.9,360.5C267.2,358.4 272.3,356.6 277.0,354.7C281.7,352.8 287.6,350.6 291.1,348.8C294.6,347.0 294.6,344.9 298.1,344.1C301.6,343.3 307.1,344.1 312.2,344.1C317.3,344.1 324.1,344.1 328.6,344.1C333.1,344.1 337.2,343.3 339.2,344.1C341.2,344.9 341.8,347.4 340.4,348.8C339.0,350.2 333.9,350.9 331.0,352.3C328.1,353.7 324.8,354.4 322.8,357.0C320.8,359.6 320.0,363.9 319.2,367.6C318.4,371.3 317.9,375.8 318.1,379.3C318.3,382.8 318.6,385.2 320.4,388.7C322.1,392.2 325.7,397.0 328.6,400.5C331.5,404.0 335.2,406.7 338.0,409.8C340.8,412.9 343.5,416.1 345.1,419.2C346.7,422.3 347.2,425.1 347.4,428.6C347.6,432.1 347.1,436.9 346.3,440.4C345.5,443.9 344.9,447.3 342.7,449.8C340.5,452.3 336.8,454.0 333.3,455.6C329.8,457.2 324.1,457.4 321.6,459.2C319.1,461.0 319.3,463.5 318.1,466.2C316.9,468.9 316.3,472.9 314.5,475.6C312.7,478.4 311.8,480.9 307.5,482.7C303.2,484.5 295.3,485.6 288.7,486.2C282.1,486.8 273.5,486.8 267.6,486.2C261.7,485.6 256.6,484.8 253.5,482.7C250.4,480.6 250.0,478.4 248.8,473.3C247.6,468.2 247.0,459.6 246.4,452.1C245.8,444.7 245.9,436.4 245.3,428.6C244.7,420.8 243.5,412.2 242.9,405.2C242.3,398.2 241.5,391.5 241.7,386.4C241.9,381.3 242.5,377.7 244.1,374.6Z" fill="#07070a" stroke="#616161" stroke-width="5.5" stroke-linejoin="round"/>
<path d="M378.8,354.1C380.4,352.1 383.7,351.7 387.0,351.3C390.3,350.9 395.6,350.9 398.7,351.7C401.8,352.5 404.2,354.0 405.8,356.4C407.4,358.8 407.3,362.7 408.1,365.8C408.9,368.9 408.9,372.6 410.5,375.2C412.1,377.8 415.4,378.8 417.5,381.1C419.6,383.5 421.6,386.4 423.4,389.3C425.2,392.2 426.4,395.6 428.1,398.7C429.9,401.8 431.9,404.6 433.9,408.1C435.8,411.6 438.2,415.5 439.8,419.8C441.4,424.1 442.7,428.8 443.3,433.9C443.9,439.0 444.1,444.9 443.3,450.4C442.5,455.9 440.6,462.1 438.6,466.8C436.7,471.5 434.7,475.1 431.6,478.6C428.5,482.1 424.5,485.5 419.8,488.0C415.1,490.5 408.9,492.6 403.4,493.8C397.9,495.0 392.5,495.4 387.0,495.0C381.5,494.6 375.4,493.3 370.5,491.5C365.6,489.7 360.5,487.3 357.6,484.4C354.7,481.5 353.5,476.8 352.9,473.9C352.3,471.0 352.7,468.6 354.1,466.8C355.5,465.0 359.3,464.9 361.1,463.3C362.9,461.7 364.5,459.2 364.7,457.4C364.9,455.6 364.1,454.1 362.3,452.7C360.5,451.3 356.5,450.6 354.1,449.2C351.8,447.8 349.4,446.6 348.2,444.5C347.0,442.4 346.8,439.4 347.0,436.3C347.2,433.2 348.0,428.8 349.4,425.7C350.8,422.6 352.9,420.0 355.3,417.5C357.7,415.0 361.0,413.2 363.5,410.5C366.0,407.8 368.6,404.6 370.5,401.1C372.4,397.6 374.0,393.6 375.2,389.3C376.4,385.0 377.2,379.5 377.6,375.2C378.0,370.9 377.4,367.0 377.6,363.5C377.8,360.0 377.2,356.1 378.8,354.1Z" fill="#07070a" stroke="#616161" stroke-width="5.5" stroke-linejoin="round"/>
</g>
<g filter="url(#bl2)"><ellipse cx="418" cy="388" rx="6" ry="9" fill="#3a3a90" opacity="0.8"/><ellipse cx="418" cy="388" rx="3" ry="6" fill="#e06010"/><ellipse cx="418.5" cy="387" rx="2" ry="3" fill="#f0e040"/></g>
<g filter="url(#bl1)"><ellipse cx="275.7" cy="400.6" rx="1.6" ry="1.2" fill="#a8a8b0"/><ellipse cx="294.2" cy="387.7" rx="1.4" ry="1.1" fill="#a8a8b0"/><ellipse cx="297.3" cy="393.4" rx="1.3" ry="1" fill="#a8a8b0"/><ellipse cx="293.2" cy="402.6" rx="1.2" ry="1" fill="#a8a8b0"/><ellipse cx="282.9" cy="429.3" rx="1.6" ry="1.1" fill="#a8a8b0"/><ellipse cx="307.6" cy="420.1" rx="1.5" ry="1.1" fill="#a8a8b0"/><ellipse cx="272.6" cy="419.1" rx="1.2" ry="0.9" fill="#a8a8b0"/><ellipse cx="261.3" cy="413.9" rx="1.2" ry="0.8" fill="#a8a8b0"/><ellipse cx="314.7" cy="441.7" rx="1.2" ry="1" fill="#a8a8b0"/><ellipse cx="387" cy="423.4" rx="1.5" ry="1.1" fill="#a8a8b0"/><ellipse cx="395.2" cy="428" rx="1.3" ry="1" fill="#a8a8b0"/><ellipse cx="377.6" cy="430.4" rx="1.4" ry="1" fill="#a8a8b0"/><ellipse cx="384.6" cy="435.1" rx="1.5" ry="1" fill="#a8a8b0"/><ellipse cx="389.3" cy="437.5" rx="1.3" ry="1" fill="#a8a8b0"/><ellipse cx="375.2" cy="442.2" rx="1.3" ry="1" fill="#a8a8b0"/><ellipse cx="383.4" cy="445.7" rx="1.4" ry="1" fill="#a8a8b0"/><ellipse cx="388.1" cy="448" rx="1.2" ry="1" fill="#a8a8b0"/><ellipse cx="382.3" cy="452.7" rx="1.2" ry="1" fill="#a8a8b0"/><path d="M293,440 L300,432 L308,426 L316,423" stroke="#6a6a80" stroke-width="2" fill="none"/><path d="M300,432 L298,446" stroke="#5a5a6a" stroke-width="2.5" fill="none"/><path d="M403,435 L413,437" stroke="#8a8a90" stroke-width="1.5" fill="none"/><circle cx="379" cy="459.8" r="1.5" fill="#8a70c0"/></g>
<g filter="url(#bl1)">
<path d="M481.7,383.5C484.2,379.1 486.6,374.5 489.7,371.1C492.8,367.7 496.4,365.4 500.2,363.2C504.0,361.0 508.5,359.1 512.6,357.9C516.7,356.7 521.4,355.8 524.9,356.2C528.4,356.6 531.8,358.1 533.7,360.6C535.6,363.1 535.8,367.0 536.4,371.1C537.0,375.2 536.9,381.1 537.2,385.2C537.5,389.3 537.2,393.4 538.1,395.8C539.0,398.2 540.3,399.0 542.5,399.3C544.7,399.6 548.3,397.0 551.3,397.6C554.2,398.2 557.0,401.1 560.2,402.9C563.4,404.6 567.9,406.1 570.7,408.1C573.5,410.2 576.2,412.6 576.9,415.2C577.6,417.8 577.0,422.2 575.1,424.0C573.2,425.8 568.2,425.4 565.4,425.8C562.6,426.2 560.4,425.8 558.4,426.7C556.4,427.6 554.3,428.6 553.1,431.1C551.9,433.6 551.6,438.1 551.3,441.6C551.0,445.1 551.9,449.0 551.3,452.2C550.7,455.4 549.8,458.6 547.8,461.0C545.8,463.4 542.5,465.1 539.0,466.3C535.5,467.5 530.8,468.1 526.7,468.1C522.6,468.1 518.7,467.2 514.3,466.3C509.9,465.4 504.6,464.6 500.2,462.8C495.8,461.0 491.3,458.9 487.9,455.7C484.5,452.5 482.2,447.8 480.0,443.4C477.8,439.0 476.0,434.3 474.7,429.3C473.4,424.3 472.0,418.7 472.0,413.4C472.0,408.1 473.1,402.6 474.7,397.6C476.3,392.6 479.2,387.9 481.7,383.5Z" fill="#5e5e66"/>
<path d="M605.2,385.8C607.0,383.6 609.4,382.1 612.3,381.4C615.2,380.7 619.0,380.7 622.8,381.4C626.6,382.1 631.6,383.9 635.1,385.8C638.6,387.7 641.4,389.7 643.9,392.9C646.4,396.1 648.6,400.8 650.1,405.2C651.6,409.6 652.1,414.6 652.7,419.3C653.3,424.0 653.7,429.0 653.6,433.4C653.5,437.8 653.5,441.6 651.9,445.7C650.3,449.8 647.0,454.8 643.9,458.0C640.8,461.2 636.9,463.0 633.4,465.1C629.9,467.2 626.0,468.3 622.8,470.4C619.6,472.4 617.2,475.3 614.0,477.4C610.8,479.4 607.3,482.1 603.5,482.7C599.7,483.3 594.6,482.4 591.1,480.9C587.6,479.4 584.2,477.1 582.3,473.9C580.4,470.7 579.4,465.2 579.7,461.5C580.0,457.8 581.9,454.1 584.1,451.9C586.3,449.7 590.0,449.3 592.9,448.3C595.8,447.3 599.7,447.6 601.7,445.7C603.8,443.8 605.2,440.7 605.2,436.9C605.2,433.1 602.6,427.5 601.7,422.8C600.8,418.1 599.9,413.4 599.9,408.7C599.9,404.0 600.8,398.4 601.7,394.6C602.6,390.8 603.4,388.0 605.2,385.8Z" fill="#5e5e66"/>
</g>
<g filter="url(#bl2)">
<path d="M493.6,376.9C495.9,373.8 498.9,372.2 502.0,370.2C505.1,368.2 508.8,366.2 512.2,365.1C515.6,364.0 519.8,362.8 522.3,363.4C524.8,364.0 526.8,366.8 527.3,368.5C527.8,370.2 525.0,371.8 525.6,373.5C526.2,375.2 529.6,375.5 530.7,378.6C531.8,381.7 532.7,387.9 532.4,392.1C532.1,396.3 530.4,400.8 529.0,403.9C527.6,407.0 524.6,408.1 524.0,410.6C523.4,413.1 525.1,416.9 525.6,419.1C526.1,421.4 528.1,422.4 527.3,424.1C526.5,425.8 521.1,427.2 520.6,429.2C520.1,431.2 523.4,433.2 524.0,436.0C524.6,438.8 523.7,443.3 524.0,446.1C524.3,448.9 526.2,450.8 525.6,452.8C525.0,454.8 522.3,456.5 520.6,457.9C518.9,459.3 517.2,461.2 515.5,461.2C513.8,461.2 512.5,459.3 510.5,457.9C508.5,456.5 506.2,453.9 503.7,452.8C501.2,451.7 497.6,452.2 495.3,451.1C493.1,450.0 490.8,448.1 490.2,446.1C489.6,444.1 492.4,441.3 491.9,439.3C491.3,437.3 488.0,436.6 486.9,434.3C485.8,432.1 485.3,428.3 485.2,425.8C485.1,423.3 486.6,421.6 486.0,419.1C485.4,416.6 482.5,412.9 481.8,410.6C481.1,408.4 481.0,407.6 481.8,405.6C482.6,403.6 485.8,401.6 486.9,398.8C488.0,396.0 487.4,392.4 488.5,388.7C489.6,385.0 491.4,380.0 493.6,376.9Z" fill="#101014"/>
<path d="M524.0,424.0C525.2,422.8 531.5,426.3 535.0,424.0C538.5,421.7 542.0,412.9 545.0,410.0C548.0,407.1 550.0,406.6 553.1,406.4C556.2,406.2 560.5,407.5 563.7,408.9C566.9,410.3 571.1,412.9 572.5,415.0C573.9,417.1 574.0,420.2 572.0,421.2C570.0,422.2 563.9,420.6 560.2,421.2C556.5,421.8 553.1,423.4 549.6,424.8C546.1,426.2 542.6,428.3 539.0,429.3C535.4,430.3 530.5,431.9 528.0,431.0C525.5,430.1 522.8,425.2 524.0,424.0Z" fill="#101014"/>
<path d="M609.0,398.4C610.2,396.3 612.1,392.3 614.2,390.8C616.3,389.3 619.5,389.3 621.8,389.5C624.1,389.7 626.3,390.7 628.2,392.0C630.1,393.3 631.6,395.3 633.3,397.2C635.0,399.1 636.9,401.2 638.4,403.5C639.9,405.8 641.2,408.6 642.3,411.2C643.4,413.8 644.6,416.3 644.8,418.9C645.0,421.4 643.5,424.2 643.5,426.5C643.5,428.8 644.8,430.8 644.8,432.9C644.8,435.0 644.6,437.6 643.5,439.3C642.4,441.0 639.0,441.6 638.4,443.1C637.8,444.6 640.6,446.9 639.7,448.2C638.9,449.5 635.4,449.7 633.3,450.8C631.2,451.9 629.2,453.5 626.9,454.6C624.6,455.7 621.4,457.0 619.3,457.2C617.2,457.4 615.7,457.0 614.2,455.9C612.7,454.8 611.2,453.1 610.3,450.8C609.4,448.5 609.4,444.9 609.0,441.9C608.6,438.9 608.2,435.5 607.8,432.9C607.4,430.3 606.4,428.6 606.5,426.5C606.6,424.4 608.2,422.7 608.4,420.1C608.6,417.6 608.0,414.0 607.8,411.2C607.6,408.4 606.9,405.6 607.1,403.5C607.3,401.4 607.8,400.5 609.0,398.4Z" fill="#101014"/>
<circle cx="591" cy="459" r="3.5" fill="#101014"/>
<path d="M511,372 L512,398" stroke="#6a6a6a" stroke-width="3" fill="none"/>
<path d="M494,418.5 L507,418.5" stroke="#6a6a6a" stroke-width="2.5" fill="none"/>
<path d="M621,406 L621,417" stroke="#6a6a6a" stroke-width="3" fill="none"/>
</g>
<g filter="url(#bl1)">
<path d="M37.6,522.9C41.7,520.8 48.0,518.8 50.5,519.4C53.0,520.0 52.8,522.1 52.8,526.4C52.8,530.7 51.1,539.3 50.5,545.2C49.9,551.1 49.1,556.6 49.3,561.7C49.5,566.8 49.7,571.9 51.7,575.8C53.7,579.7 57.2,583.1 61.1,585.2C65.0,587.4 70.1,588.1 75.2,588.7C80.3,589.3 86.9,588.3 91.6,588.7C96.3,589.1 100.4,589.4 103.3,591.0C106.2,592.6 108.6,595.6 109.2,598.1C109.8,600.6 108.7,603.0 106.9,606.3C105.1,609.6 100.9,613.3 98.6,618.0C96.2,622.7 94.8,629.8 92.8,634.5C90.8,639.2 89.8,642.7 86.9,646.2C84.0,649.7 79.9,653.5 75.2,655.6C70.5,657.8 64.2,659.3 58.7,659.1C53.2,658.9 47.4,656.9 42.3,654.4C37.2,651.9 32.5,648.4 28.2,643.9C23.9,639.4 19.3,633.3 16.4,627.4C13.5,621.5 12.0,615.2 10.6,608.6C9.2,602.0 8.2,594.5 8.2,587.5C8.2,580.5 9.2,573.0 10.6,566.4C12.0,559.8 13.9,553.3 16.4,547.6C18.9,541.9 22.3,536.4 25.8,532.3C29.3,528.2 33.5,525.0 37.6,522.9Z" fill="#111116" stroke="#6a6a6a" stroke-width="3.5" stroke-linejoin="round"/>
<path d="M134.7,595.5C137.0,592.8 140.2,593.3 143.9,592.7C147.6,592.1 152.4,592.9 156.7,591.8C161.0,590.7 165.3,588.3 169.6,586.3C173.9,584.3 178.4,582.5 182.4,579.9C186.4,577.3 190.3,573.8 193.4,570.7C196.5,567.6 198.4,563.6 200.8,561.5C203.2,559.4 206.1,557.6 208.1,557.8C210.1,557.9 211.5,559.0 212.7,562.4C213.9,565.8 214.8,572.3 215.4,578.0C216.0,583.7 216.9,590.3 216.4,596.4C215.9,602.5 214.4,609.3 212.7,614.8C211.0,620.3 209.2,624.8 206.3,629.4C203.4,634.0 199.3,638.3 195.3,642.3C191.3,646.3 187.0,650.2 182.4,653.3C177.8,656.3 172.6,659.4 167.7,660.6C162.8,661.8 157.6,661.5 153.0,660.6C148.4,659.7 143.6,658.2 140.2,655.1C136.8,652.0 134.5,647.2 132.8,642.3C131.1,637.4 130.6,631.3 130.1,625.8C129.6,620.3 129.3,614.2 130.1,609.2C130.9,604.2 132.4,598.2 134.7,595.5Z" fill="#131318" stroke="#6a6a6a" stroke-width="3.5" stroke-linejoin="round"/>
</g>
<clipPath id="lcf"><path d="M37.6,522.9C41.7,520.8 48.0,518.8 50.5,519.4C53.0,520.0 52.8,522.1 52.8,526.4C52.8,530.7 51.1,539.3 50.5,545.2C49.9,551.1 49.1,556.6 49.3,561.7C49.5,566.8 49.7,571.9 51.7,575.8C53.7,579.7 57.2,583.1 61.1,585.2C65.0,587.4 70.1,588.1 75.2,588.7C80.3,589.3 86.9,588.3 91.6,588.7C96.3,589.1 100.4,589.4 103.3,591.0C106.2,592.6 108.6,595.6 109.2,598.1C109.8,600.6 108.7,603.0 106.9,606.3C105.1,609.6 100.9,613.3 98.6,618.0C96.2,622.7 94.8,629.8 92.8,634.5C90.8,639.2 89.8,642.7 86.9,646.2C84.0,649.7 79.9,653.5 75.2,655.6C70.5,657.8 64.2,659.3 58.7,659.1C53.2,658.9 47.4,656.9 42.3,654.4C37.2,651.9 32.5,648.4 28.2,643.9C23.9,639.4 19.3,633.3 16.4,627.4C13.5,621.5 12.0,615.2 10.6,608.6C9.2,602.0 8.2,594.5 8.2,587.5C8.2,580.5 9.2,573.0 10.6,566.4C12.0,559.8 13.9,553.3 16.4,547.6C18.9,541.9 22.3,536.4 25.8,532.3C29.3,528.2 33.5,525.0 37.6,522.9Z"/><path d="M134.7,595.5C137.0,592.8 140.2,593.3 143.9,592.7C147.6,592.1 152.4,592.9 156.7,591.8C161.0,590.7 165.3,588.3 169.6,586.3C173.9,584.3 178.4,582.5 182.4,579.9C186.4,577.3 190.3,573.8 193.4,570.7C196.5,567.6 198.4,563.6 200.8,561.5C203.2,559.4 206.1,557.6 208.1,557.8C210.1,557.9 211.5,559.0 212.7,562.4C213.9,565.8 214.8,572.3 215.4,578.0C216.0,583.7 216.9,590.3 216.4,596.4C215.9,602.5 214.4,609.3 212.7,614.8C211.0,620.3 209.2,624.8 206.3,629.4C203.4,634.0 199.3,638.3 195.3,642.3C191.3,646.3 187.0,650.2 182.4,653.3C177.8,656.3 172.6,659.4 167.7,660.6C162.8,661.8 157.6,661.5 153.0,660.6C148.4,659.7 143.6,658.2 140.2,655.1C136.8,652.0 134.5,647.2 132.8,642.3C131.1,637.4 130.6,631.3 130.1,625.8C129.6,620.3 129.3,614.2 130.1,609.2C130.9,604.2 132.4,598.2 134.7,595.5Z"/></clipPath>
<rect x="1" y="324" width="683" height="355" filter="url(#noise)" clip-path="url(#lcf)"/>
<g filter="url(#bl1)">
<path d="M50.5,519.4C51.6,519.1 52.8,522.1 52.8,526.4C52.8,530.7 51.1,539.3 50.5,545.2C49.9,551.1 49.1,556.6 49.3,561.7C49.5,566.8 49.7,571.9 51.7,575.8C53.7,579.7 57.2,583.1 61.1,585.2C65.0,587.4 70.1,588.1 75.2,588.7C80.3,589.3 86.9,588.3 91.6,588.7C96.3,589.1 101.9,589.6 103.3,591.0C104.7,592.4 102.5,596.2 100.0,597.0C97.5,597.8 92.7,596.2 88.0,596.0C83.3,595.8 77.0,596.7 72.0,596.0C67.0,595.3 62.3,594.3 58.0,592.0C53.7,589.7 48.7,586.3 46.0,582.0C43.3,577.7 42.5,572.2 42.0,566.0C41.5,559.8 42.3,551.3 43.0,545.0C43.7,538.7 44.8,532.3 46.0,528.0C47.2,523.7 49.4,519.7 50.5,519.4Z" fill="#3c3c40"/>
</g>
<g filter="url(#bl3)"><ellipse cx="192" cy="603" rx="22" ry="30" fill="#1c1c40" opacity="0.55"/></g>
<g filter="url(#bl1)"><circle cx="190" cy="593" r="1" fill="#c03018"/><circle cx="193" cy="598" r="1" fill="#c03018"/><circle cx="197" cy="596" r="1" fill="#c03018"/><circle cx="195" cy="603" r="1" fill="#c03018"/><circle cx="199" cy="601" r="1" fill="#c03018"/><circle cx="191" cy="605" r="1" fill="#c03018"/><circle cx="196" cy="607" r="1" fill="#c03018"/><circle cx="196.5" cy="594.5" r="1.3" fill="#f0c020"/></g>
<g filter="url(#bl1)">
<path d="M251.2,533.2C254.5,529.3 258.6,524.4 262.9,521.5C267.2,518.6 271.9,516.8 277.0,515.6C282.1,514.4 288.0,514.4 293.5,514.4C299.0,514.4 305.0,514.8 309.9,515.6C314.8,516.4 320.1,517.5 322.8,519.1C325.6,520.7 326.4,523.2 326.4,525.0C326.4,526.8 324.0,527.6 322.8,529.7C321.6,531.9 320.3,534.2 319.3,537.9C318.3,541.6 317.8,547.3 317.0,552.0C316.2,556.7 314.6,561.8 314.6,566.1C314.6,570.4 315.4,574.8 317.0,577.9C318.6,581.0 322.1,582.2 324.0,584.9C325.9,587.6 327.9,591.2 328.7,594.3C329.5,597.4 329.3,601.0 328.7,603.7C328.1,606.5 326.2,608.0 325.2,610.8C324.2,613.5 324.2,616.7 322.8,620.2C321.4,623.7 319.5,628.0 317.0,631.9C314.5,635.8 311.1,640.2 307.6,643.7C304.1,647.2 300.5,650.6 295.8,653.1C291.1,655.6 284.5,658.2 279.4,659.0C274.3,659.8 269.6,659.6 265.3,657.8C261.0,656.0 257.0,652.7 253.5,648.4C250.0,644.1 246.4,638.6 244.1,631.9C241.8,625.2 240.6,616.2 239.4,608.4C238.2,600.6 237.3,592.7 237.1,584.9C236.9,577.1 237.2,568.0 238.2,561.4C239.2,554.8 240.7,549.7 242.9,545.0C245.1,540.3 247.9,537.1 251.2,533.2Z" fill="#07070a" stroke="#5e5e6c" stroke-width="5.5" stroke-linejoin="round"/>
<path d="M400.2,522.9C401.7,521.7 405.6,520.4 408.5,520.6C411.4,520.8 414.8,522.0 417.9,524.1C421.0,526.2 424.4,530.0 427.3,533.5C430.2,537.0 433.4,540.6 435.5,545.3C437.6,550.0 439.0,555.8 440.2,561.7C441.4,567.6 442.3,574.2 442.5,580.5C442.7,586.8 442.2,593.0 441.4,599.3C440.6,605.6 439.8,611.8 437.8,618.1C435.8,624.4 432.9,631.4 429.6,636.9C426.3,642.4 422.6,647.3 417.9,651.0C413.2,654.7 406.9,657.7 401.4,659.3C395.9,660.9 390.1,661.0 385.0,660.4C379.9,659.8 375.0,658.4 370.9,655.7C366.8,653.0 362.9,648.7 360.3,644.0C357.8,639.3 356.2,632.6 355.6,627.5C355.0,622.4 355.4,617.3 356.8,613.4C358.2,609.5 361.1,606.7 363.8,604.0C366.5,601.3 369.7,599.0 373.2,597.0C376.7,595.0 381.5,594.3 385.0,592.3C388.5,590.3 391.7,588.0 394.4,585.2C397.1,582.5 399.4,579.7 401.4,575.8C403.3,571.9 405.1,566.4 406.1,561.7C407.1,557.0 407.7,551.9 407.3,547.6C406.9,543.3 405.1,539.2 403.8,535.9C402.5,532.6 400.1,529.8 399.5,527.6C398.9,525.4 398.7,524.1 400.2,522.9Z" fill="#07070a" stroke="#5e5e66" stroke-width="5.5" stroke-linejoin="round"/>
</g>
<clipPath id="lcg"><path d="M400.2,522.9C401.7,521.7 405.6,520.4 408.5,520.6C411.4,520.8 414.8,522.0 417.9,524.1C421.0,526.2 424.4,530.0 427.3,533.5C430.2,537.0 433.4,540.6 435.5,545.3C437.6,550.0 439.0,555.8 440.2,561.7C441.4,567.6 442.3,574.2 442.5,580.5C442.7,586.8 442.2,593.0 441.4,599.3C440.6,605.6 439.8,611.8 437.8,618.1C435.8,624.4 432.9,631.4 429.6,636.9C426.3,642.4 422.6,647.3 417.9,651.0C413.2,654.7 406.9,657.7 401.4,659.3C395.9,660.9 390.1,661.0 385.0,660.4C379.9,659.8 375.0,658.4 370.9,655.7C366.8,653.0 362.9,648.7 360.3,644.0C357.8,639.3 356.2,632.6 355.6,627.5C355.0,622.4 355.4,617.3 356.8,613.4C358.2,609.5 361.1,606.7 363.8,604.0C366.5,601.3 369.7,599.0 373.2,597.0C376.7,595.0 381.5,594.3 385.0,592.3C388.5,590.3 391.7,588.0 394.4,585.2C397.1,582.5 399.4,579.7 401.4,575.8C403.3,571.9 405.1,566.4 406.1,561.7C407.1,557.0 407.7,551.9 407.3,547.6C406.9,543.3 405.1,539.2 403.8,535.9C402.5,532.6 400.1,529.8 399.5,527.6C398.9,525.4 398.7,524.1 400.2,522.9Z"/></clipPath>
<rect x="1" y="324" width="683" height="355" filter="url(#noise)" clip-path="url(#lcg)"/>
<g filter="url(#bl3)">
<ellipse cx="420" cy="557" rx="16" ry="18" fill="#303068" opacity="0.56"/>
<ellipse cx="420" cy="592" rx="13" ry="8" fill="#303068" opacity="0.48"/>
<ellipse cx="309" cy="596" rx="13" ry="14" fill="#303068" opacity="0.64"/>
<ellipse cx="273" cy="520" rx="10" ry="5" fill="#303068" opacity="0.40"/>
<ellipse cx="308" cy="521" rx="9" ry="6" fill="#303068" opacity="0.40"/>
<ellipse cx="309" cy="557" rx="8" ry="10" fill="#303068" opacity="0.40"/>
<ellipse cx="430" cy="610" rx="8" ry="20" fill="#303068" opacity="0.28"/>
</g>
<g filter="url(#bl2)">
<path d="M296,582 Q300,576 312,578 Q322,582 326,592 Q326,604 318,610 Q306,612 298,606 Q292,596 296,582Z" fill="#50506a" opacity="0.85"/>
<ellipse cx="301" cy="586.5" rx="3" ry="4" fill="#050508"/>
<ellipse cx="308" cy="601" rx="3.5" ry="3" fill="#0a0a18"/>
</g>
<g filter="url(#bl1)">
<ellipse cx="419" cy="557" rx="11" ry="12.5" fill="#a83410" opacity="0.75"/>
<ellipse cx="419.5" cy="591.5" rx="10" ry="4.5" fill="#a83410" opacity="0.75"/>
<ellipse cx="273.5" cy="519.5" rx="8" ry="4" fill="#a83410" opacity="0.75"/>
<ellipse cx="308" cy="521" rx="6.5" ry="5" fill="#a83410" opacity="0.75"/>
<ellipse cx="309.5" cy="556.5" rx="6.5" ry="7.5" fill="#a83410" opacity="0.75"/>
<ellipse cx="304.5" cy="597.5" rx="5" ry="4.5" fill="#a83410" opacity="0.75"/>
<ellipse cx="236.5" cy="594.3" rx="2" ry="4" fill="#a83410" opacity="0.75"/>
<circle cx="411" cy="552" r="3.5" fill="#e6e23c"/>
<circle cx="412.5" cy="560" r="4" fill="#e6e23c"/>
<circle cx="416" cy="547.5" r="3" fill="#e6e23c"/>
<circle cx="421" cy="548.5" r="3.5" fill="#e6e23c"/>
<circle cx="425.5" cy="553" r="3" fill="#e6e23c"/>
<circle cx="424.5" cy="560.5" r="2.6" fill="#e6e23c"/>
<circle cx="419" cy="565" r="3" fill="#e6e23c"/>
<circle cx="412" cy="566" r="2.5" fill="#e6e23c"/>
<circle cx="428" cy="547" r="2" fill="#e6e23c"/>
<circle cx="415.6" cy="591.6" r="2.5" fill="#e6e23c"/>
<circle cx="425.9" cy="587" r="2.5" fill="#e6e23c"/>
<circle cx="422.8" cy="593.6" r="2" fill="#e6e23c"/>
<circle cx="269" cy="522.5" r="2" fill="#e6e23c"/>
<circle cx="274.9" cy="521.4" r="2" fill="#e6e23c"/>
<circle cx="278.4" cy="518.4" r="2" fill="#e6e23c"/>
<circle cx="307.6" cy="521.4" r="2.3" fill="#e6e23c"/>
<circle cx="306.4" cy="517.8" r="1.8" fill="#e6e23c"/>
<circle cx="311.6" cy="559.3" r="2.5" fill="#e6e23c"/>
<circle cx="307.6" cy="554" r="1.8" fill="#e6e23c"/>
<circle cx="312.2" cy="554" r="1.8" fill="#e6e23c"/>
<circle cx="302.1" cy="599.8" r="2" fill="#e6e23c"/>
<circle cx="307.8" cy="596.3" r="2" fill="#e6e23c"/>
<circle cx="237" cy="594" r="1.5" fill="#e6e23c"/>
</g>
<g filter="url(#bl1)">
<path d="M479.5,567.3C481.2,563.5 484.4,559.4 487.6,556.0C490.8,552.6 494.6,549.1 498.9,547.1C503.2,545.1 508.9,543.9 513.5,543.9C518.1,543.9 522.1,546.0 526.4,547.1C530.7,548.2 535.3,548.8 539.3,550.3C543.3,551.8 547.8,553.7 550.6,556.0C553.4,558.3 555.2,560.9 556.3,564.1C557.4,567.3 556.4,572.5 557.1,575.4C557.8,578.3 558.4,580.7 560.3,581.8C562.2,582.9 568.1,581.0 568.4,581.8C568.7,582.6 564.0,585.4 561.9,586.7C559.8,588.1 557.4,587.2 555.5,589.9C553.6,592.6 552.8,598.6 550.6,602.9C548.4,607.2 545.5,612.0 542.5,615.8C539.5,619.6 536.7,622.8 532.9,625.5C529.1,628.2 524.2,630.8 519.9,631.9C515.6,633.0 511.3,632.7 507.0,631.9C502.7,631.1 497.9,629.5 494.1,627.1C490.3,624.7 487.0,621.2 484.4,617.4C481.8,613.6 479.9,608.8 478.7,604.5C477.5,600.2 477.4,595.8 477.1,591.5C476.8,587.2 476.7,582.6 477.1,578.6C477.5,574.6 477.8,571.1 479.5,567.3Z" fill="#07070a" stroke="#6e6e6e" stroke-width="7.5" stroke-linejoin="round"/>
<path d="M585.3,564.1C587.2,560.3 589.8,556.5 592.6,554.4C595.4,552.2 599.3,551.7 602.3,551.2C605.3,550.7 608.2,550.8 610.4,551.2C612.5,551.6 613.3,553.6 615.2,553.6C617.1,553.6 618.5,551.3 621.7,551.2C624.9,551.1 630.6,551.5 634.6,552.8C638.6,554.1 642.7,556.8 645.9,559.2C649.1,561.6 651.8,564.3 654.0,567.3C656.2,570.3 657.8,573.5 658.9,577.0C660.0,580.5 660.5,584.5 660.5,588.3C660.5,592.1 660.0,596.1 658.9,599.6C657.8,603.1 656.2,606.1 654.0,609.3C651.8,612.5 649.1,616.0 645.9,619.0C642.7,622.0 638.6,625.0 634.6,627.1C630.6,629.2 626.0,631.1 621.7,631.9C617.4,632.7 612.8,632.7 608.8,631.9C604.8,631.1 601.0,629.5 597.5,627.1C594.0,624.7 590.4,621.2 587.8,617.4C585.2,613.6 583.3,608.8 582.1,604.5C580.9,600.2 580.6,596.1 580.5,591.5C580.4,586.9 580.5,581.6 581.3,577.0C582.1,572.4 583.4,567.9 585.3,564.1Z" fill="#07070a" stroke="#6e6e6e" stroke-width="7.5" stroke-linejoin="round"/>
</g>
<g filter="url(#bl1)" fill="#4a4a4e"><circle cx="524" cy="563.3" r="1.2"/><circle cx="531.2" cy="573.8" r="1.2"/><circle cx="507" cy="576.2" r="1.2"/><circle cx="497.3" cy="593.2" r="1.2"/><circle cx="508.6" cy="596.4" r="1.2"/><circle cx="513.5" cy="611" r="1.2"/><circle cx="621.7" cy="591.5" r="1.2"/><circle cx="624.9" cy="601.2" r="1.2"/><circle cx="609.6" cy="604.5" r="1.2"/><circle cx="612.8" cy="615" r="1.2"/><circle cx="637" cy="579.4" r="1.2"/><path d="M616.8,581.8 L626.5,573.8" stroke="#6a6a70" stroke-width="1.3"/><path d="M599,565 L611,569.5" stroke="#4a4a50" stroke-width="1.2"/><path d="M532,585 Q529,590 533,594" stroke="#5a5a60" stroke-width="1.4" fill="none"/></g>
<text x="17.5" y="351.5" font-size="30" fill="#fff">c.</text>
<text x="236" y="349.8" font-size="30" fill="#fff">d.</text>
<text x="459" y="348.3" font-size="30" fill="#fff">e.</text>
<text x="12" y="512.7" font-size="29" fill="#fff">f.</text>
<text x="229" y="509.5" font-size="30" fill="#fff">g.</text>
<text x="468" y="512.7" font-size="29" fill="#fff">h.</text>
</svg></body></html>
